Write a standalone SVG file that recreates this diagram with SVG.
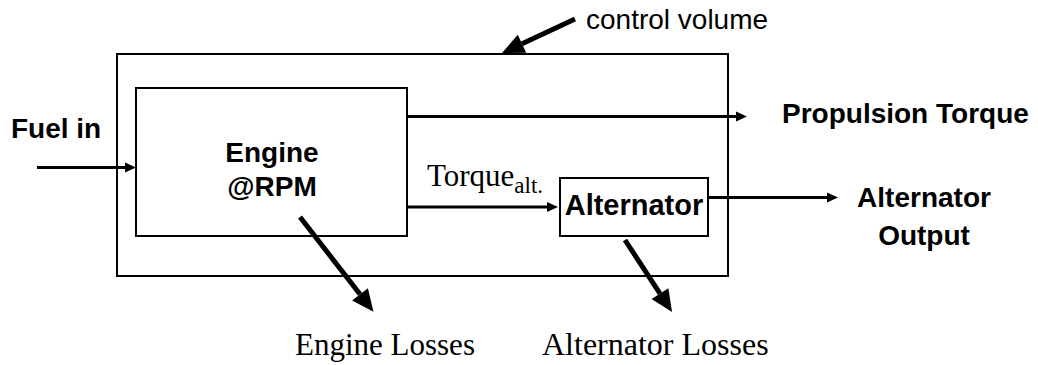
<svg xmlns="http://www.w3.org/2000/svg" width="1038" height="365" viewBox="0 0 1038 365">
<defs>
<style>
.box{fill:none;stroke:#000;stroke-width:2}
.thin{stroke:#000;stroke-width:3;fill:none}
.thick{stroke:#000;stroke-width:5;fill:none}
.sans{font-family:"Liberation Sans",Arial,sans-serif;font-weight:bold;font-size:28px;fill:#000}
.reg{font-family:"Liberation Sans",Arial,sans-serif;font-size:28px;fill:#000}
.serif{font-family:"Liberation Serif","Times New Roman",serif;font-size:31px;fill:#000}
</style>
<marker id="sm" markerUnits="userSpaceOnUse" markerWidth="12" markerHeight="12" refX="0" refY="5" orient="auto" overflow="visible">
<path d="M0,0 L11,5 L0,10 Z" fill="#000"/>
</marker>
<marker id="bg" markerUnits="userSpaceOnUse" markerWidth="24" markerHeight="22" refX="0" refY="10" orient="auto" overflow="visible">
<path d="M0,0 L22,10 L0,20 Z" fill="#000"/>
</marker>
</defs>
<rect width="1038" height="365" fill="#fff"/>
<g id="control-volume">
<rect class="box" x="117" y="54" width="611" height="222"/>
<text class="reg" x="586" y="29">control volume</text>
</g>
<g id="engine">
<rect class="box" x="136" y="88" width="271" height="148"/>
<text class="sans" x="272" y="162" text-anchor="middle">Engine</text>
<text class="sans" x="272" y="196" text-anchor="middle">@RPM</text>
</g>
<g id="alternator">
<rect class="box" x="560" y="178" width="148" height="58"/>
<text class="sans" x="634" y="215" text-anchor="middle" style="font-size:29px">Alternator</text>
</g>
<g id="connectors">
<line class="thin" x1="37" y1="167.5" x2="125" y2="167.5" marker-end="url(#sm)"/>
<line class="thin" x1="407" y1="116.5" x2="736" y2="116.5" marker-end="url(#sm)"/>
<line class="thin" x1="407" y1="207" x2="547" y2="207" marker-end="url(#sm)"/>
<line class="thin" x1="708" y1="197.5" x2="827" y2="197.5" marker-end="url(#sm)"/>
<line class="thick" x1="575" y1="19" x2="522" y2="43.7" marker-end="url(#bg)"/>
<line class="thick" x1="300" y1="217" x2="360" y2="294.3" marker-end="url(#bg)"/>
<line class="thick" x1="625" y1="240" x2="660" y2="293.6" marker-end="url(#bg)"/>
</g>
<g id="labels">
<text class="sans" x="11" y="138">Fuel in</text>
<text class="sans" x="782" y="123">Propulsion Torque</text>
<text class="sans" x="924" y="207" text-anchor="middle">Alternator</text>
<text class="sans" x="924" y="245" text-anchor="middle">Output</text>
<text class="serif" x="427" y="186">Torque<tspan style="font-size:23px" dy="7">alt.</tspan></text>
<text class="serif" x="295" y="355">Engine Losses</text>
<text class="serif" x="542" y="355" style="font-size:32px">Alternator Losses</text>
</g>
</svg>
